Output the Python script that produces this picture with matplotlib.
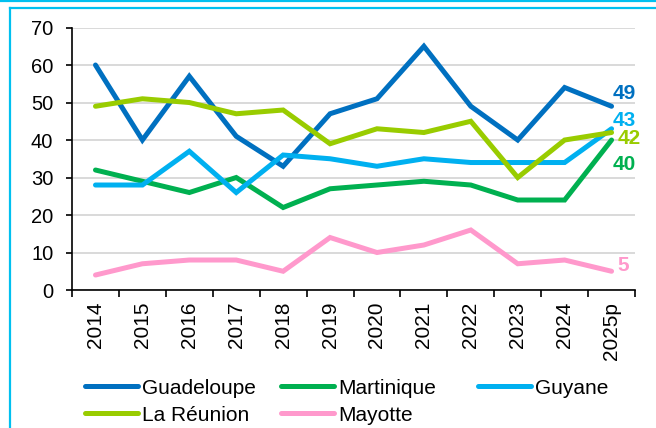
import numpy as np
import matplotlib.pyplot as plt
from matplotlib.lines import Line2D

plt.rcParams['font.family'] = ['Liberation Sans', 'DejaVu Sans']

years = ['2014', '2015', '2016', '2017', '2018', '2019', '2020', '2021',
         '2022', '2023', '2024', '2025p']

guadeloupe = [60, 40, 57, 41, 33, 47, 51, 65, 49, 40, 54, 49]
martinique = [32, 29, 26, 30, 22, 27, 28, 29, 28, 24, 24, 40]
guyane = [28, 28, 37, 26, 36, 35, 33, 35, 34, 34, 34, 43]
reunion = [49, 51, 50, 47, 48, 39, 43, 42, 45, 30, 40, 42]
mayotte = [4, 7, 8, 8, 5, 14, 10, 12, 16, 7, 8, 5]

names = ['Guadeloupe', 'Martinique', 'Guyane', 'La Réunion', 'Mayotte']
colors = ['#0070C0', '#00B050', '#00B0F0', '#99CC00', '#FF99CC']
series = [guadeloupe, martinique, guyane, reunion, mayotte]
# offsets (in points) for the last-value labels
label_off = [(0.7, 9.5), (0.7, -17.3), (1, 6.3), (4.3, -4), (4.3, 3.8)]

fig = plt.figure(figsize=(6.56, 4.28), dpi=100)
ax = fig.add_axes([0.1098, 0.3224, 0.8582, 0.6133])

x = np.arange(len(years))
lines = {}
for name, col, vals, off in zip(names, colors, series, label_off):
    ln, = ax.plot(x, vals, color=col, lw=3.6, solid_capstyle='round',
                  solid_joinstyle='miter', zorder=3)
    lines[name] = ln
    ax.annotate(str(vals[-1]), (x[-1], vals[-1]), xytext=off,
                textcoords='offset points', color=col, fontsize=15,
                fontweight='bold', va='center', ha='left')

ax.set_xlim(-0.5, len(years) - 0.5)
ax.set_ylim(0, 70)
ax.set_yticks(range(0, 71, 10))
ax.yaxis.grid(True, color='#D9D9D9', lw=1.4)
ax.set_axisbelow(True)

ax.set_xticks(x)
ax.set_xticklabels(years, rotation=90, fontsize=15)
ax.set_xticks(np.arange(-0.5, len(years)), minor=True)
ax.tick_params(axis='x', which='major', length=0, pad=8.5)
ax.tick_params(axis='x', which='minor', length=5, width=1.2, direction='out')
ax.tick_params(axis='y', labelsize=14.5, length=4.5, width=1.2,
               direction='out', pad=9)

for s in ['top', 'right']:
    ax.spines[s].set_visible(False)
for s in ['left', 'bottom']:
    ax.spines[s].set_linewidth(1.2)

# legend: three evenly spaced columns
columns = [['Guadeloupe', 'La Réunion'], ['Martinique', 'Mayotte'], ['Guyane']]
col_x = [84.5, 280.5, 477.5]
for col_names, cx in zip(columns, col_x):
    handles = [Line2D([], [], color=lines[n].get_color(), lw=3.6,
                      solid_capstyle='round') for n in col_names]
    fig.legend(handles, col_names, loc='upper left',
               bbox_to_anchor=(cx / 656, 0.115), frameon=False, fontsize=15,
               handlelength=2.55, handletextpad=0.22, labelspacing=0.38,
               borderaxespad=0, borderpad=0)

# cyan frame lines
fig.add_artist(Line2D([0, 1], [0.998, 0.998], color='#00C0F0', lw=1.6,
                      transform=fig.transFigure))
fig.add_artist(Line2D([0.015, 1], [0.982, 0.982], color='#00C0F0', lw=1.6,
                      transform=fig.transFigure))
fig.add_artist(Line2D([0.015, 0.015], [0, 0.982], color='#00C0F0', lw=1.6,
                      transform=fig.transFigure))

fig.savefig('out.png', dpi=100)
